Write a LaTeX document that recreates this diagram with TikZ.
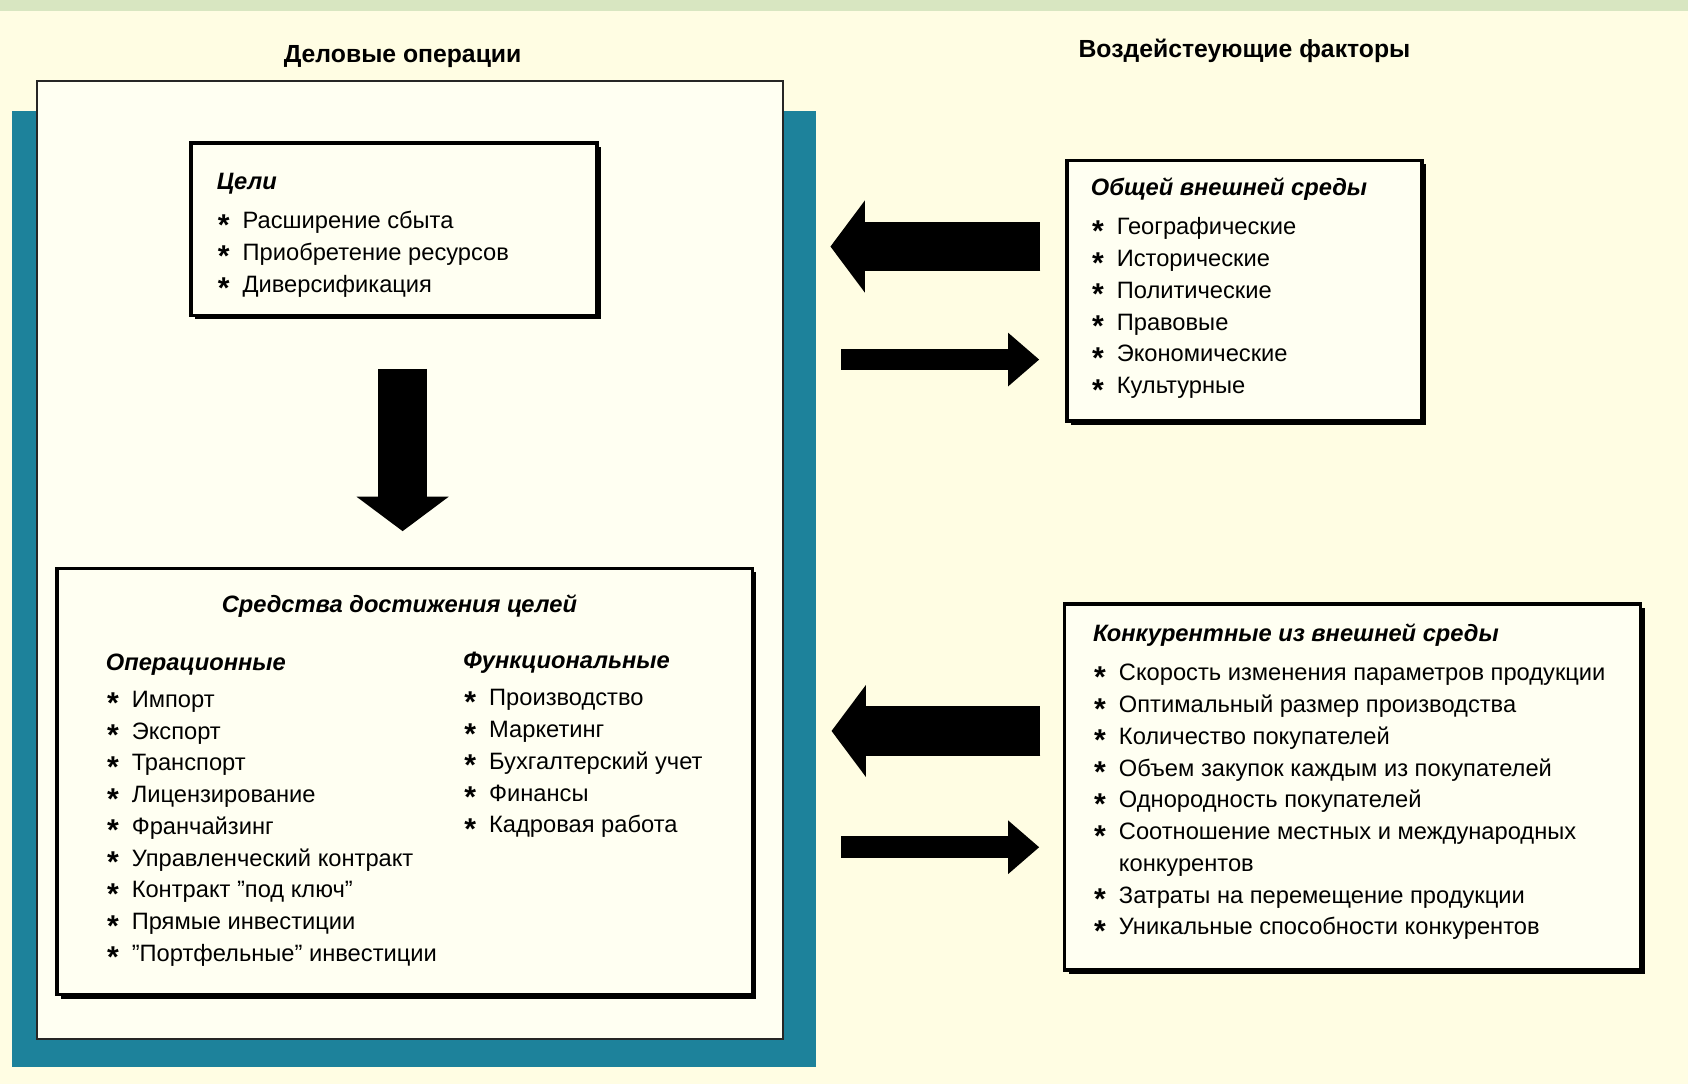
\documentclass[tikz,border=0pt]{standalone}
\usepackage{fontspec}
\setmainfont{Liberation Sans}
\usetikzlibrary{arrows.meta}
\usetikzlibrary{positioning}
\usetikzlibrary{shadows}

\definecolor{bgcream}{HTML}{FFFDE3}
\definecolor{topband}{HTML}{D8E6C1}
\definecolor{tealframe}{HTML}{1D829B}
\definecolor{paper}{HTML}{FFFFF2}

\newcommand{\blt}{\makebox[12pt][l]{\hspace{0.5pt}\smash{\raisebox{-3pt}{\fontsize{14}{14}\selectfont\bfseries *}}}}

\begin{document}
\begin{tikzpicture}[x=0.5pt,y=-0.5pt,
		font=\fontsize{11}{14.75}\selectfont,
		fatarrow/.style={line width=23pt,-{Triangle[length=16pt,width=42pt]}},
		thinarrow/.style={line width=10pt,-{Triangle[length=14.5pt,width=24pt]}}]
		\tikzstyle{factorbox}=[draw=black,line width=1.6pt,fill=paper,inner sep=0,
		drop shadow={shadow xshift=1.8pt,shadow yshift=-1.8pt,fill=black,opacity=1}]
		\tikzstyle{listtext}=[anchor=base west,inner sep=0]
		
		\fill[bgcream] (0,0) rectangle (1568,1007);
		\fill[topband] (0,0) rectangle (1568,10);
		\useasboundingbox (0,0) rectangle (1568,1007);
		
		\node[fill=tealframe,minimum width=373.5pt,minimum height=444pt,inner sep=0] (opsback) at (384.5,547) {};
		\node[draw=black!85,line width=1pt,fill=paper,minimum width=346.5pt,minimum height=445pt,inner sep=0] (ops) at (380.5,520) {};
		
		\node[anchor=base,font=\fontsize{11.5}{14}\selectfont\bfseries] (opstitle) at (374,58) {Деловые операции};
		\node[anchor=base,font=\fontsize{11.5}{14}\selectfont\bfseries] (factitle) at (1156,53) {Воздейстеующие факторы};
		
		\node[factorbox,minimum width=188.5pt,minimum height=80pt] (goals) at (366,213) {};
		\node[factorbox,minimum width=323pt,minimum height=198pt] (means) at (376,726) {};
		\node[factorbox,minimum width=165pt,minimum height=121pt] (general) at (1156,270) {};
		\node[factorbox,minimum width=267.5pt,minimum height=170pt] (compet) at (1256.5,731) {};
		
		\node[listtext] (goalstxt) at (201,176) {\begin{tabular}[t]{@{}l@{}}
			\textbf{\textit{Цели}}\\[3.5pt]
			\blt Расширение сбыта\\
			\blt Приобретение ресурсов\\
			\blt Диверсификация
		\end{tabular}};
		
		\node[anchor=base,inner sep=0] (meanstitle) at (371,569) {\textbf{\textit{Средства достижения целей}}};
		\node[listtext] (operlist) at (98,623) {\begin{tabular}[t]{@{}l@{}}
			\textbf{\textit{Операционные}}\\[2.3pt]
			\blt Импорт\\
			\blt Экспорт\\
			\blt Транспорт\\
			\blt Лицензирование\\
			\blt Франчайзинг\\
			\blt Управленческий контракт\\
			\blt Контракт "под ключ"\\
			\blt Прямые инвестиции\\
			\blt "Портфельные" инвестиции
		\end{tabular}};
		\node[listtext] (funclist) at (430,621) {\begin{tabular}[t]{@{}l@{}}
			\textbf{\textit{Функциональные}}\\[2.6pt]
			\blt Производство\\
			\blt Маркетинг\\
			\blt Бухгалтерский учет\\
			\blt Финансы\\
			\blt Кадровая работа
		\end{tabular}};
		
		\node[listtext] (gentxt) at (1013,182) {\begin{tabular}[t]{@{}l@{}}
			\textbf{\textit{Общей внешней среды}}\\[3.3pt]
			\blt Географические\\
			\blt Исторические\\
			\blt Политические\\
			\blt Правовые\\
			\blt Экономические\\
			\blt Культурные
		\end{tabular}};
		
		\node[listtext] (comptxt) at (1015,596) {\begin{tabular}[t]{@{}l@{}}
			\textbf{\textit{Конкурентные из внешней среды}}\\[3.5pt]
			\blt Скорость изменения параметров продукции\\
			\blt Оптимальный размер производства\\
			\blt Количество покупателей\\
			\blt Объем закупок каждым из покупателей\\
			\blt Однородность покупателей\\
			\blt Соотношение местных и международных\\
			\hspace{12pt}конкурентов\\
			\blt Затраты на перемещение продукции\\
			\blt Уникальные способности конкурентов
		\end{tabular}};
		
		\draw[fatarrow,shorten <=24pt,shorten >=16.5pt] (374,0 |- goals.south) -- (374,0 |- means.north);
		\draw[fatarrow,shorten <=11.5pt,shorten >=6.5pt] (general.west |- 0,229) -- (opsback.east |- 0,229);
		\draw[thinarrow,shorten <=11.5pt,shorten >=12pt] (opsback.east |- 0,334) -- (general.west |- 0,334);
		\draw[fatarrow,shorten <=10.5pt,shorten >=7pt] (compet.west |- 0,679) -- (opsback.east |- 0,679);
		\draw[thinarrow,shorten <=11.5pt,shorten >=11pt] (opsback.east |- 0,787) -- (compet.west |- 0,787);
		
\end{tikzpicture}
\end{document}
